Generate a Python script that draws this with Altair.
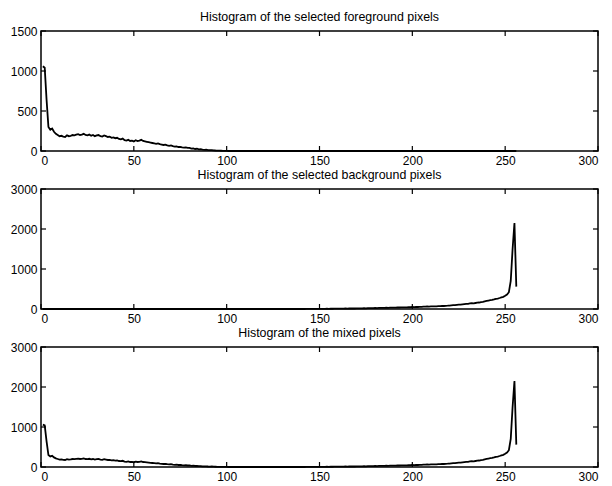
import altair as alt
import pandas as pd

# ---- data (bins 1..256) ----
fg_head = [
    1060, 1040, 640, 300, 265, 280, 240, 215, 200, 185,
    190, 180, 175, 195, 185, 190, 200, 195, 205, 210,
    200, 205, 215, 200, 195, 205, 190, 200, 185, 195,
    200, 185, 180, 195, 185, 175, 180, 165, 170, 160,
    165, 150, 145, 155, 135, 130, 140, 125, 130, 120,
    135, 125, 130, 140, 125, 120, 115, 110, 105, 100,
    95, 90, 95, 85, 80, 75, 80, 70, 65, 70,
    60, 55, 58, 50, 52, 45, 42, 44, 38, 40,
    30, 33, 25, 28, 20, 22, 17, 15, 16, 12,
    10, 12, 8, 6, 5, 4, 3, 2, 2, 1,
]
fg_tail = [0] * 156
foreground = fg_head + fg_tail

bg_head = [0] * 140
bg_tail = [
    1, 0, 1, 2, 1, 2, 3, 2, 3, 4,
    3, 5, 4, 6, 5, 7, 6, 8, 7, 9,
    8, 10, 9, 12, 11, 13, 12, 14, 13, 16,
    15, 17, 16, 19, 18, 21, 20, 23, 22, 25,
    24, 27, 26, 30, 28, 32, 30, 34, 33, 36,
    35, 38, 37, 40, 39, 43, 42, 45, 44, 50,
    48, 52, 50, 55, 54, 58, 57, 62, 60, 65,
    64, 68, 67, 72, 71, 76, 75, 80, 82, 86,
    90, 95, 98, 104, 110, 108, 115, 120, 126, 130,
    138, 144, 142, 150, 158, 162, 172, 180, 192, 205,
    212, 220, 228, 240, 255, 262, 275, 290, 305, 330,
    360, 420, 700, 1500, 2150, 560,
]
background = bg_head + bg_tail

bins = list(range(1, 257))
mixed = [a + b for a, b in zip(foreground, background)]

x_ticks = [0, 50, 100, 150, 200, 250, 300]
y_ticks_fg = [0, 500, 1000, 1500]
y_ticks_bg = [0, 1000, 2000, 3000]

titles = [
    "Histogram of the selected foreground pixels",
    "Histogram of the selected background pixels",
    "Histogram of the mixed pixels",
]

W = 557
H = 120
TICK = 5
FONT = "Liberation Sans"


def panel(values, ymax, yticks, title):
    df = pd.DataFrame({"x": bins, "y": values})
    xs = alt.Scale(domain=[0, 300], nice=False)
    ys = alt.Scale(domain=[0, ymax], nice=False)
    xa = alt.Axis(values=x_ticks, format="d", title=None, grid=False,
                  ticks=False, domain=False, labelPadding=4)
    ya = alt.Axis(values=yticks, format="d", title=None, grid=False,
                  ticks=False, domain=False, labelPadding=4)
    X = lambda f: alt.X(f, scale=xs, axis=xa, title=None)
    Y = lambda f: alt.Y(f, scale=ys, axis=ya, title=None)

    line = alt.Chart(df).mark_line(color="black", strokeWidth=1.8).encode(
        x=X("x:Q"), y=Y("y:Q")
    )
    xt = pd.DataFrame({"x": x_ticks})
    yt = pd.DataFrame({"y": yticks})
    top = alt.Chart(xt).mark_rule(color="black", strokeWidth=1.2).encode(
        x=X("x:Q"), y=alt.value(0), y2=alt.value(TICK))
    bot = alt.Chart(xt).mark_rule(color="black", strokeWidth=1.2).encode(
        x=X("x:Q"), y=alt.value(H), y2=alt.value(H - TICK))
    left = alt.Chart(yt).mark_rule(color="black", strokeWidth=1.2).encode(
        y=Y("y:Q"), x=alt.value(0), x2=alt.value(TICK))
    right = alt.Chart(yt).mark_rule(color="black", strokeWidth=1.2).encode(
        y=Y("y:Q"), x=alt.value(W), x2=alt.value(W - TICK))
    return alt.layer(line, top, bot, left, right).properties(
        width=W, height=H,
        title=alt.TitleParams(title, font=FONT, fontSize=12.4,
                              fontWeight="normal", color="black", offset=2,
                              anchor="middle"),
    )


chart = alt.vconcat(
    panel(foreground, 1500, y_ticks_fg, titles[0]),
    panel(background, 3000, y_ticks_bg, titles[1]),
    panel(mixed, 3000, y_ticks_bg, titles[2]),
    spacing=0,
).properties(
    padding={"left": 9, "top": 9, "right": 0, "bottom": 0},
    background="white",
).configure_view(
    stroke="black", strokeWidth=1.5
).configure_axis(
    domain=False, ticks=False, grid=False,
    labelFont=FONT, labelFontSize=12, labelColor="black",
).configure_title(
    font=FONT, fontSize=12.4, fontWeight="normal", color="black",
    anchor="middle",
)

chart.save("out.html", embed_options={"renderer": "svg", "actions": False})
